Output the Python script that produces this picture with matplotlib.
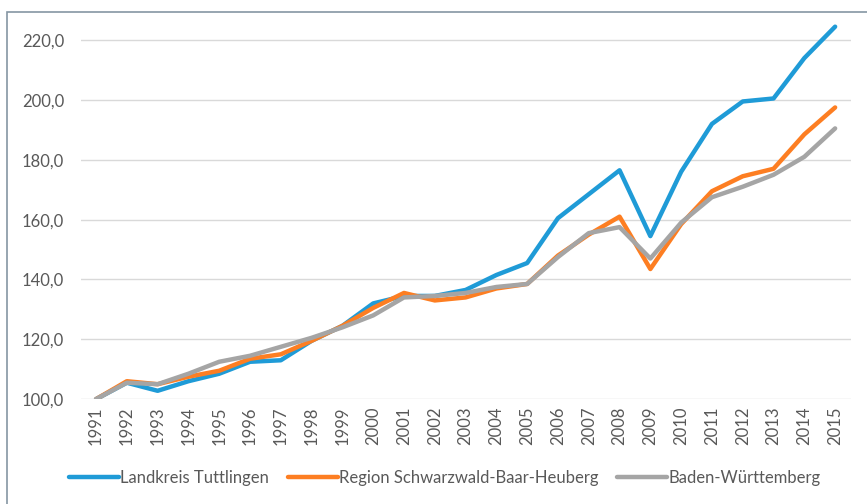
import matplotlib
matplotlib.use("Agg")
import matplotlib.pyplot as plt
from matplotlib.patches import Rectangle
from matplotlib.ticker import FuncFormatter

years = list(range(1991, 2016))

tuttlingen = [100.0, 105.5, 102.8, 106.0, 108.5, 112.5, 113.0, 119.5, 124.5, 132.0,
              134.5, 134.5, 136.5, 141.5, 145.5, 160.5, 168.5, 176.5, 154.5, 176.0,
              192.0, 199.5, 200.5, 214.0, 224.5]
region = [100.0, 106.0, 105.0, 107.5, 109.5, 113.5, 115.0, 119.5, 124.5, 130.5,
          135.5, 133.0, 134.0, 137.0, 138.5, 148.0, 155.0, 161.0, 143.5, 158.5,
          169.5, 174.5, 177.0, 188.5, 197.5]
bw = [100.0, 105.5, 105.0, 108.5, 112.5, 114.5, 117.5, 120.5, 124.0, 128.0,
      134.0, 134.5, 135.5, 137.5, 138.5, 147.5, 155.5, 157.5, 147.0, 159.0,
      167.5, 171.0, 175.0, 181.0, 190.5]

labels = ["Landkreis Tuttlingen", "Region Schwarzwald-Baar-Heuberg", "Baden-Württemberg"]
colors = ["#1f9bd7", "#fd7e22", "#a5a5a5"]
yticks = [100, 120, 140, 160, 180, 200, 220]

plt.rcParams['font.family'] = ['Lato', 'DejaVu Sans']
txt = "#595959"

fig = plt.figure(figsize=(8.67, 5.04), dpi=100)
ax = fig.add_axes([0.093, 0.208, 0.888, 0.748])

for vals, lab, c in zip([tuttlingen, region, bw], labels, colors):
    ax.plot(years, vals, color=c, lw=3.2, label=lab, solid_capstyle="round",
            solid_joinstyle="round")

ax.set_xlim(1990.5, 2015.5)
ax.set_ylim(100, 226)
ax.set_yticks(yticks)
ax.yaxis.set_major_formatter(FuncFormatter(lambda v, p: f"{v:.1f}".replace(".", ",")))
ax.set_xticks(years)
ax.set_xticklabels([str(y) for y in years], rotation=90)
ax.grid(axis="y", color="#d9d9d9", lw=1)
ax.set_axisbelow(True)
for s in ax.spines.values():
    s.set_visible(False)
ax.tick_params(axis="both", length=0, colors=txt, labelsize=12)
ax.tick_params(axis="y", pad=12)
ax.tick_params(axis="x", pad=5)

leg = fig.legend(loc="center", bbox_to_anchor=(0.513, 0.051), ncol=3, frameon=False,
                 fontsize=12, handlelength=3.0, handletextpad=0.1, columnspacing=1.1)
for t in leg.get_texts():
    t.set_color(txt)

fig.patches.append(Rectangle((7 / 867, -0.1), 1.2, 1 - 12 / 504 + 0.1,
                             transform=fig.transFigure, fill=False,
                             edgecolor="#8596a3", lw=1.2))

fig.savefig("out.png", dpi=100)
